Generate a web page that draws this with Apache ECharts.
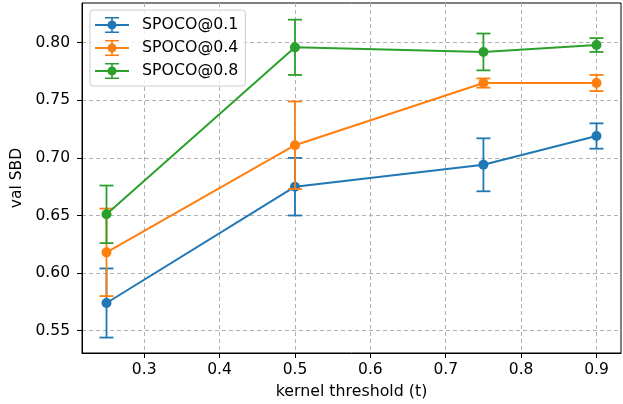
<!DOCTYPE html>
<html>
<head>
<meta charset="utf-8">
<script src="https://cdn.jsdelivr.net/npm/echarts@6/dist/echarts.min.js"></script>
<style>
  html, body { margin: 0; padding: 0; background: #fff; }
  #chart { width: 623px; height: 404px; }
</style>
</head>
<body>
<div id="chart"></div>
<script>
// kernel threshold values on the x axis
var thresholds = [0.25, 0.5, 0.75, 0.9];

// mean val SBD and error (half-length of the bar) per series
var seriesNames = ["SPOCO@0.1", "SPOCO@0.4", "SPOCO@0.8"];
var meanSpoco01 = [0.574, 0.675, 0.694, 0.719];
var errSpoco01 = [0.030, 0.025, 0.023, 0.011];
var meanSpoco04 = [0.618, 0.711, 0.765, 0.765];
var errSpoco04 = [0.038, 0.038, 0.004, 0.007];
var meanSpoco08 = [0.651, 0.796, 0.792, 0.798];
var errSpoco08 = [0.025, 0.024, 0.016, 0.006];

// tick labels
var xTicks = [0.3, 0.4, 0.5, 0.6, 0.7, 0.8, 0.9];
var yTicks = [0.55, 0.60, 0.65, 0.70, 0.75, 0.80];

var colors = ["#1f77b4", "#ff7f0e", "#2ca02c"];
var font = "DejaVu Sans";
var fontSize = 15.5;

var chart = echarts.init(document.getElementById("chart"));

// legend icon: line + marker + error bar with caps (34 x 16 box)
var legendIcon = "path://M0,7.1H34V8.9H0Z" +
  "M16.2,0H17.8V16H16.2Z" +
  "M10,0H24V1.6H10Z" +
  "M10,14.4H24V16H10Z" +
  "M21.5,8A4.5,4.5 0 1,1 12.5,8A4.5,4.5 0 1,1 21.5,8Z";

function errorBarSeries(means, errs, color, z) {
  var data = means.map(function (m, i) {
    return [thresholds[i], m - errs[i], m + errs[i]];
  });
  return {
    type: "custom",
    name: "err",
    z: z,
    silent: true,
    data: data,
    renderItem: function (params, api) {
      var x = api.value(0);
      var lo = api.coord([x, api.value(1)]);
      var hi = api.coord([x, api.value(2)]);
      var style = { stroke: color, lineWidth: 1.8 };
      var cap = 7;
      return {
        type: "group",
        children: [
          { type: "line", shape: { x1: lo[0], y1: lo[1], x2: hi[0], y2: hi[1] }, style: style },
          { type: "line", shape: { x1: lo[0] - cap, y1: lo[1], x2: lo[0] + cap, y2: lo[1] }, style: style },
          { type: "line", shape: { x1: hi[0] - cap, y1: hi[1], x2: hi[0] + cap, y2: hi[1] }, style: style }
        ]
      };
    }
  };
}

function lineSeries(name, means, color, z) {
  return {
    type: "line",
    name: name,
    z: z,
    data: means.map(function (m, i) { return [thresholds[i], m]; }),
    symbol: "circle",
    symbolSize: 10,
    showSymbol: true,
    lineStyle: { color: color, width: 2 },
    itemStyle: { color: color },
    emphasis: { disabled: true }
  };
}

var option = {
  animation: false,
  grid: {
    left: 82,
    right: 2,
    top: 3,
    bottom: 51,
    containLabel: false,
    outerBoundsMode: "none",
    show: true,
    borderColor: "#000",
    borderWidth: 1
  },
  legend: {
    data: seriesNames.map(function (n) { return { name: n, icon: legendIcon }; }),
    orient: "vertical",
    left: 90,
    top: 10,
    itemWidth: 34,
    itemHeight: 16,
    itemGap: 7,
    padding: [7, 7, 7, 5],
    backgroundColor: "rgba(255,255,255,0.8)",
    borderColor: "#cccccc",
    borderWidth: 1,
    borderRadius: 3,
    textStyle: {
      fontFamily: font,
      fontSize: 15.8,
      lineHeight: 16,
      color: "#000",
      padding: [0, 0, 0, 8]
    }
  },
  xAxis: {
    type: "value",
    min: 0.2175,
    max: 0.9325,
    name: "kernel threshold (t)",
    nameLocation: "middle",
    nameGap: 31,
    nameTextStyle: { fontFamily: font, fontSize: 15.8, color: "#000" },
    axisLine: { show: true, lineStyle: { color: "#000", width: 1 } },
    axisTick: { show: true, length: 5, customValues: xTicks, lineStyle: { color: "#000" } },
    axisLabel: {
      customValues: xTicks,
      margin: 9,
      fontFamily: font,
      fontSize: fontSize,
      color: "#000",
      formatter: function (v) { return v.toFixed(1); }
    },
    splitLine: { show: true, lineStyle: { color: "#b0b0b0", type: [4, 3], width: 1 } }
  },
  yAxis: {
    type: "value",
    min: 0.5306,
    max: 0.8345,
    name: "val SBD",
    nameLocation: "middle",
    nameGap: 55,
    nameTextStyle: { fontFamily: font, fontSize: fontSize, color: "#000" },
    axisLine: { show: true, lineStyle: { color: "#000", width: 1 } },
    axisTick: { show: true, length: 5, customValues: yTicks, lineStyle: { color: "#000" } },
    axisLabel: {
      customValues: yTicks,
      margin: 12,
      fontFamily: font,
      fontSize: fontSize,
      color: "#000",
      formatter: function (v) { return v.toFixed(2); }
    },
    splitLine: { show: true, lineStyle: { color: "#b0b0b0", type: [4, 3], width: 1 } }
  },
  series: [
    errorBarSeries(meanSpoco01, errSpoco01, colors[0], 2),
    lineSeries(seriesNames[0], meanSpoco01, colors[0], 3),
    errorBarSeries(meanSpoco04, errSpoco04, colors[1], 4),
    lineSeries(seriesNames[1], meanSpoco04, colors[1], 5),
    errorBarSeries(meanSpoco08, errSpoco08, colors[2], 6),
    lineSeries(seriesNames[2], meanSpoco08, colors[2], 7)
  ]
};

chart.setOption(option);
</script>
</body>
</html>
